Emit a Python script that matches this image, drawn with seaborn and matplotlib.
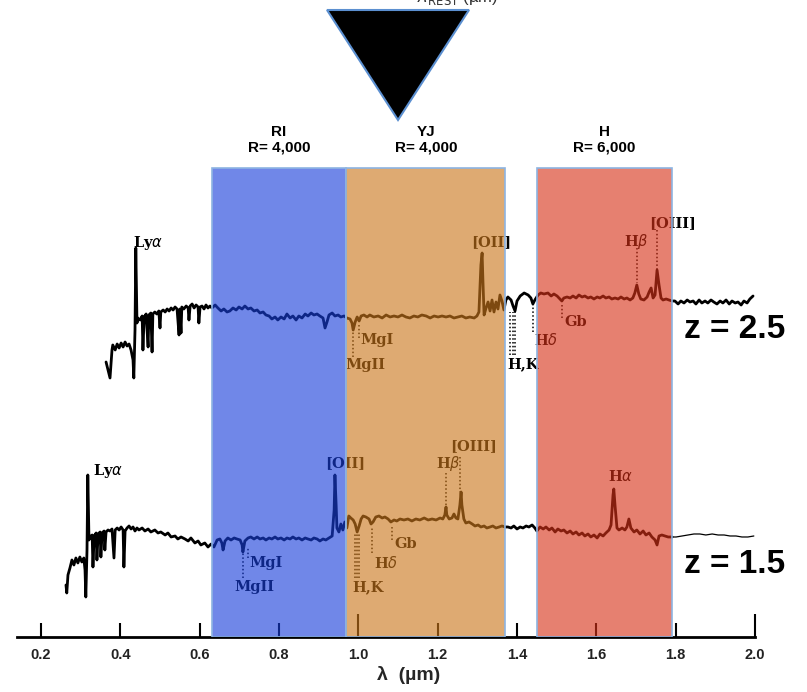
import matplotlib
matplotlib.use("Agg")
import matplotlib.pyplot as plt
from matplotlib.patches import Polygon
import seaborn as sns

# spectra: (wavelength in um, flux incl. vertical offset)
spec_z25 = [
    (0.364, 2.75), (0.369, 2.67), (0.374, 2.59), (0.379, 2.87), (0.381, 2.92), (0.387, 2.87),
    (0.392, 2.93), (0.397, 2.89), (0.402, 2.94), (0.407, 2.90), (0.412, 2.95), (0.417, 2.91),
    (0.422, 2.93), (0.427, 2.87), (0.432, 2.77), (0.434, 2.59), (0.437, 3.07), (0.439, 3.89),
    (0.442, 3.14), (0.444, 3.19), (0.450, 3.17), (0.455, 3.21), (0.457, 2.87), (0.460, 3.20),
    (0.465, 3.23), (0.470, 2.90), (0.472, 3.22), (0.477, 3.24), (0.480, 2.85), (0.482, 3.23),
    (0.487, 3.25), (0.492, 3.23), (0.497, 3.26), (0.500, 3.09), (0.502, 3.25), (0.508, 3.27),
    (0.513, 3.25), (0.518, 3.28), (0.523, 3.26), (0.528, 3.29), (0.533, 3.27), (0.538, 3.30),
    (0.543, 3.28), (0.548, 3.02), (0.550, 3.28), (0.553, 3.04), (0.555, 3.30), (0.560, 3.28),
    (0.566, 3.31), (0.571, 3.29), (0.573, 3.17), (0.576, 3.31), (0.581, 3.33), (0.586, 3.29),
    (0.591, 3.32), (0.596, 3.30), (0.598, 3.14), (0.601, 3.30), (0.606, 3.31), (0.611, 3.28),
    (0.616, 3.32), (0.621, 3.29), (0.626, 3.31), (0.631, 3.29), (0.639, 3.32),
    (0.646, 3.29), (0.654, 3.26), (0.661, 3.28), (0.669, 3.25), (0.676, 3.26), (0.684, 3.29),
    (0.692, 3.27), (0.699, 3.30), (0.707, 3.28), (0.714, 3.31), (0.722, 3.28), (0.729, 3.29),
    (0.737, 3.26), (0.745, 3.27), (0.752, 3.24), (0.760, 3.25), (0.767, 3.22), (0.775, 3.21),
    (0.782, 3.18), (0.790, 3.20), (0.797, 3.17), (0.805, 3.20), (0.813, 3.18), (0.820, 3.23),
    (0.828, 3.19), (0.835, 3.21), (0.843, 3.17), (0.850, 3.21), (0.858, 3.19), (0.866, 3.23),
    (0.873, 3.21), (0.881, 3.24), (0.888, 3.22), (0.896, 3.23), (0.903, 3.21), (0.911, 3.19),
    (0.916, 3.09), (0.921, 3.15), (0.926, 3.22), (0.934, 3.24), (0.941, 3.21), (0.949, 3.22),
    (0.956, 3.20), (0.964, 3.21), (0.971, 3.19),
    (0.979, 3.18), (0.984, 3.14), (0.987, 3.07), (0.992, 3.15), (0.997, 3.20), (1.002, 3.16),
    (1.007, 3.21), (1.014, 3.22), (1.022, 3.20), (1.029, 3.22), (1.039, 3.20), (1.050, 3.21),
    (1.060, 3.19), (1.070, 3.22), (1.080, 3.20), (1.090, 3.21), (1.100, 3.20), (1.110, 3.22),
    (1.120, 3.20), (1.130, 3.19), (1.140, 3.21), (1.150, 3.20), (1.160, 3.22), (1.171, 3.21),
    (1.181, 3.19), (1.191, 3.21), (1.201, 3.20), (1.211, 3.21), (1.221, 3.20), (1.231, 3.21),
    (1.241, 3.19), (1.251, 3.20), (1.261, 3.21), (1.271, 3.19), (1.281, 3.20), (1.292, 3.19),
    (1.299, 3.21), (1.304, 3.25), (1.309, 3.72), (1.312, 3.84), (1.314, 3.57), (1.317, 3.22),
    (1.322, 3.29), (1.327, 3.35), (1.332, 3.26), (1.337, 3.37), (1.342, 3.25), (1.347, 3.35),
    (1.352, 3.28), (1.357, 3.42), (1.362, 3.36), (1.367, 3.27), (1.372, 3.37),
    (1.377, 3.40), (1.385, 3.37), (1.390, 3.31), (1.395, 3.26), (1.400, 3.36), (1.408, 3.41),
    (1.418, 3.44), (1.428, 3.42), (1.435, 3.39), (1.440, 3.33), (1.445, 3.37), (1.453, 3.42),
    (1.460, 3.44), (1.468, 3.43), (1.478, 3.44), (1.486, 3.41), (1.493, 3.43), (1.501, 3.41),
    (1.508, 3.38), (1.513, 3.36), (1.518, 3.39), (1.526, 3.40), (1.534, 3.39), (1.541, 3.41),
    (1.549, 3.39), (1.556, 3.42), (1.564, 3.40), (1.571, 3.41), (1.579, 3.39), (1.586, 3.40),
    (1.594, 3.38), (1.602, 3.40), (1.609, 3.39), (1.617, 3.41), (1.624, 3.39), (1.632, 3.40),
    (1.639, 3.38), (1.647, 3.39), (1.655, 3.38), (1.662, 3.40), (1.670, 3.38), (1.677, 3.39),
    (1.685, 3.37), (1.692, 3.39), (1.697, 3.44), (1.702, 3.52), (1.707, 3.43), (1.712, 3.38),
    (1.720, 3.37), (1.728, 3.40), (1.733, 3.45), (1.738, 3.49), (1.743, 3.39), (1.748, 3.42),
    (1.753, 3.67), (1.758, 3.52), (1.763, 3.39), (1.768, 3.37), (1.776, 3.38), (1.783, 3.37),
    (1.791, 3.36),
    (1.798, 3.36), (1.806, 3.33), (1.813, 3.36), (1.821, 3.34), (1.829, 3.37), (1.836, 3.35),
    (1.844, 3.36), (1.851, 3.33), (1.859, 3.37), (1.866, 3.34), (1.874, 3.36), (1.881, 3.34),
    (1.889, 3.37), (1.896, 3.35), (1.904, 3.33), (1.912, 3.36), (1.919, 3.34), (1.927, 3.37),
    (1.935, 3.33), (1.942, 3.36), (1.950, 3.34), (1.957, 3.35), (1.965, 3.32), (1.972, 3.36),
    (1.980, 3.34), (1.987, 3.38), (1.995, 3.41),
]

spec_z15 = [
    (0.263, 0.52), (0.265, 0.44), (0.268, 0.62), (0.273, 0.69), (0.278, 0.77), (0.283, 0.72),
    (0.288, 0.79), (0.293, 0.74), (0.298, 0.80), (0.303, 0.75), (0.308, 0.79), (0.311, 0.67),
    (0.313, 0.40), (0.316, 0.87), (0.318, 1.62), (0.321, 0.97), (0.323, 1.00), (0.329, 1.02),
    (0.331, 0.70), (0.334, 1.01), (0.339, 1.04), (0.341, 0.77), (0.344, 1.03), (0.349, 1.05),
    (0.351, 0.80), (0.354, 1.04), (0.359, 1.06), (0.361, 0.87), (0.364, 1.05), (0.369, 1.07),
    (0.374, 1.06), (0.379, 1.08), (0.384, 0.79), (0.387, 1.07), (0.392, 1.09), (0.397, 1.07),
    (0.402, 1.10), (0.407, 1.07), (0.409, 0.70), (0.412, 1.06), (0.417, 1.09), (0.422, 1.11),
    (0.427, 1.08), (0.432, 1.10), (0.437, 1.06), (0.442, 1.09), (0.447, 1.07), (0.455, 1.09),
    (0.462, 1.06), (0.470, 1.08), (0.477, 1.05), (0.487, 1.07), (0.495, 1.04), (0.502, 1.05),
    (0.513, 1.02), (0.520, 1.04), (0.528, 1.00), (0.538, 1.01), (0.545, 0.98), (0.553, 1.00),
    (0.563, 0.98), (0.571, 0.96), (0.578, 0.99), (0.588, 0.94), (0.596, 0.96), (0.603, 0.92),
    (0.613, 0.94), (0.621, 0.90), (0.629, 0.93), (0.636, 0.90),
    (0.644, 0.97), (0.651, 0.98), (0.656, 0.94), (0.659, 0.87), (0.664, 0.96), (0.671, 0.99),
    (0.679, 0.97), (0.687, 0.99), (0.694, 0.98), (0.702, 0.97), (0.707, 0.92), (0.709, 0.85),
    (0.714, 0.96), (0.722, 0.99), (0.729, 1.00), (0.737, 0.98), (0.745, 1.00), (0.752, 0.98),
    (0.760, 0.99), (0.767, 0.97), (0.775, 0.99), (0.782, 0.98), (0.790, 1.00), (0.797, 0.98),
    (0.805, 0.99), (0.813, 0.97), (0.820, 0.99), (0.828, 0.98), (0.835, 1.00), (0.843, 0.98),
    (0.850, 0.99), (0.858, 0.97), (0.866, 0.99), (0.873, 0.98), (0.881, 0.97), (0.888, 0.99),
    (0.896, 0.98), (0.903, 0.96), (0.911, 0.98), (0.918, 0.97), (0.926, 0.99), (0.934, 1.01),
    (0.939, 1.27), (0.941, 1.62), (0.944, 1.32), (0.946, 1.09), (0.951, 1.05), (0.956, 1.13),
    (0.961, 1.07), (0.966, 1.15), (0.971, 1.09),
    (0.976, 1.21), (0.981, 1.19), (0.987, 1.17), (0.992, 1.13), (0.997, 1.05), (1.002, 1.11),
    (1.007, 1.18), (1.012, 1.21), (1.019, 1.20), (1.027, 1.18), (1.032, 1.13), (1.037, 1.15),
    (1.044, 1.20), (1.052, 1.21), (1.060, 1.19), (1.067, 1.20), (1.075, 1.18), (1.082, 1.15),
    (1.090, 1.17), (1.097, 1.16), (1.105, 1.18), (1.115, 1.17), (1.125, 1.18), (1.135, 1.16),
    (1.145, 1.18), (1.155, 1.17), (1.166, 1.19), (1.176, 1.17), (1.186, 1.18), (1.196, 1.17),
    (1.206, 1.19), (1.213, 1.18), (1.218, 1.22), (1.221, 1.30), (1.223, 1.22), (1.229, 1.18),
    (1.236, 1.19), (1.241, 1.23), (1.246, 1.19), (1.251, 1.18), (1.256, 1.32), (1.259, 1.45),
    (1.261, 1.32), (1.266, 1.18), (1.271, 1.14), (1.279, 1.15), (1.287, 1.13), (1.294, 1.11),
    (1.302, 1.12), (1.309, 1.10), (1.317, 1.11), (1.324, 1.09), (1.332, 1.10), (1.339, 1.11),
    (1.347, 1.09), (1.355, 1.10), (1.362, 1.11), (1.370, 1.10),
    (1.377, 1.10), (1.385, 1.09), (1.392, 1.11), (1.400, 1.08), (1.408, 1.10), (1.415, 1.09),
    (1.423, 1.11), (1.430, 1.10), (1.438, 1.12), (1.445, 1.09), (1.450, 1.06),
    (1.458, 1.10), (1.466, 1.08), (1.473, 1.10), (1.481, 1.07), (1.488, 1.09), (1.496, 1.05),
    (1.503, 1.08), (1.511, 1.06), (1.518, 1.07), (1.526, 1.04), (1.534, 1.06), (1.541, 1.03),
    (1.549, 1.05), (1.556, 1.02), (1.564, 1.04), (1.571, 1.01), (1.579, 1.03), (1.586, 1.00),
    (1.594, 1.02), (1.602, 0.99), (1.609, 1.03), (1.617, 1.01), (1.624, 1.04), (1.632, 1.07),
    (1.637, 1.12), (1.642, 1.42), (1.644, 1.48), (1.647, 1.32), (1.652, 1.09), (1.657, 1.07),
    (1.665, 1.09), (1.672, 1.07), (1.677, 1.10), (1.682, 1.18), (1.687, 1.09), (1.695, 1.05),
    (1.702, 1.07), (1.710, 1.03), (1.718, 1.06), (1.725, 1.02), (1.733, 1.04), (1.740, 1.00),
    (1.748, 0.97), (1.753, 0.92), (1.758, 1.01), (1.765, 1.02), (1.773, 1.01), (1.781, 1.00),
    (1.791, 1.00),
]

# thin end of the z=1.5 spectrum
tail_z15 = [
    (1.791, 1.00), (1.801, 1.00), (1.816, 1.01), (1.831, 1.02), (1.846, 1.03), (1.861, 1.03),
    (1.876, 1.02), (1.892, 1.03), (1.907, 1.02), (1.922, 1.02), (1.937, 1.01), (1.952, 1.01),
    (1.967, 1.00), (1.982, 1.00), (1.997, 1.01),
]

# spectral line labels
names_z25 = ["Ly$\\alpha$", "MgI", "MgII", "[OII]", "H,K", "H$\\delta$", "Gb", "H$\\beta$", "[OIII]"]
lab_x_z25 = [0.470, 1.048, 1.017, 1.334, 1.415, 1.473, 1.549, 1.702, 1.791]
lab_y_z25 = [3.94, 2.97, 2.72, 3.95, 2.73, 2.97, 3.15, 3.95, 4.14]
tick_x_z25 = [0.987, 1.002, 1.382, 1.389, 1.395, 1.440, 1.513, 1.702, 1.753]
tick_y0_z25 = [3.07, 3.14, 3.25, 3.25, 3.25, 3.35, 3.34, 3.54, 3.67]
tick_y1_z25 = [2.80, 2.99, 2.82, 2.82, 2.82, 3.05, 3.19, 3.89, 4.07]

names_z15 = ["Ly$\\alpha$", "MgI", "MgII", "[OII]", "H,K", "H$\\delta$", "Gb", "H$\\beta$", "[OIII]", "H$\\alpha$"]
lab_x_z15 = [0.369, 0.768, 0.739, 0.966, 1.024, 1.070, 1.120, 1.228, 1.291, 1.662]
lab_y_z15 = [1.66, 0.74, 0.50, 1.74, 0.50, 0.74, 0.93, 1.73, 1.91, 1.60]
tick_x_z15 = [0.709, 0.722, 0.992, 0.997, 1.002, 1.034, 1.085, 1.221, 1.256]
tick_y0_z15 = [0.94, 0.90, 1.04, 1.04, 1.04, 1.10, 1.10, 1.30, 1.45]
tick_y1_z15 = [0.59, 0.79, 0.59, 0.59, 0.59, 0.84, 0.97, 1.64, 1.80]

redshifts = ["z = 2.5", "z = 1.5"]
z_label_y = [3.07, 0.72]

# spectrograph arms
band_names = ["RI", "YJ", "H"]
band_res = ["R= 4,000", "R= 4,000", "R= 6,000"]
band_lo = [0.63, 0.97, 1.45]
band_hi = [0.97, 1.37, 1.79]
band_colors = ["#183eda", "#cb771b", "#d83218"]

xticks = [0.2, 0.4, 0.6, 0.8, 1.0, 1.2, 1.4, 1.6, 1.8, 2.0]

sns.set_style("white")
plt.rcParams["font.family"] = ["Liberation Sans", "DejaVu Sans"]
plt.rcParams["text.color"] = "black"

fig = plt.figure(figsize=(8.07, 6.92), dpi=100)
ax = fig.add_axes([0.0213, 0.0795, 0.9143, 0.9205])
ax.set_xlim(0.14, 2.0)
ax.set_ylim(0, 6.37)

for spec in [spec_z25, spec_z15]:
    wl = [p[0] for p in spec]
    fl = [p[1] for p in spec]
    sns.lineplot(x=wl, y=fl, color="black", lw=2.0, estimator=None, ax=ax)
sns.lineplot(x=[p[0] for p in tail_z15], y=[p[1] for p in tail_z15],
             color="black", lw=0.9, estimator=None, ax=ax)

line_font = dict(family="DejaVu Serif", weight="bold", size=10.5, ha="center", va="center")
for names, lx, ly in [(names_z25, lab_x_z25, lab_y_z25), (names_z15, lab_x_z15, lab_y_z15)]:
    for n, x, y in zip(names, lx, ly):
        ax.text(x, y, n, **line_font)
for tx, t0, t1 in [(tick_x_z25, tick_y0_z25, tick_y1_z25), (tick_x_z15, tick_y0_z15, tick_y1_z15)]:
    ax.vlines(tx, t1, t0, colors="black", linestyles=(0, (1, 1.5)), lw=1.1)

for txt, y in zip(redshifts, z_label_y):
    ax.text(1.949, y, txt, fontsize=24, weight="bold", ha="center", va="center", clip_on=False)

band_top = 4.69
for name, res, lo, hi, col in zip(band_names, band_res, band_lo, band_hi, band_colors):
    rgba = matplotlib.colors.to_rgba(col, 0.62)
    ax.axvspan(lo, hi, ymin=0, ymax=band_top / 6.37, facecolor=rgba,
               edgecolor="#8db4e2", lw=1.2, zorder=5)
    ax.text((lo + hi) / 2, band_top + 0.13, name + "\n" + res, fontsize=11, weight="bold",
            ha="center", va="bottom", linespacing=1.2)

# rest-frame marker at the top
tri = Polygon([(0.921, 6.27), (1.279, 6.27), (1.100, 5.17)], closed=True,
              facecolor="black", edgecolor="#5b8fd0", lw=1.5, zorder=4)
ax.add_patch(tri)
ax.text(1.147, 6.345, "$\\lambda_{\\mathrm{REST}}$ (µm)", fontsize=12, color="#333333",
        ha="left", va="baseline", clip_on=False)

ax.set_xticks(xticks)
ax.set_xticklabels([f"{t:.1f}" for t in xticks], fontsize=10.5, weight="bold", color="#222222")
ax.set_yticks([])
ax.tick_params(axis="x", direction="in", length=10, width=1.5, color="black", pad=8, bottom=True)
for t, v in zip(ax.xaxis.get_major_ticks(), xticks):
    if v in (1.0, 2.0):
        t.tick1line.set_markersize(16.5)
ax.set_xlabel("λ  (µm)", fontsize=14, weight="bold", labelpad=0)
ax.xaxis.set_label_coords(0.531, -0.045)

for s in ["left", "top", "right"]:
    ax.spines[s].set_visible(False)
ax.spines["bottom"].set_linewidth(2)
ax.spines["bottom"].set_color("black")

fig.savefig("out.png", dpi=100)
